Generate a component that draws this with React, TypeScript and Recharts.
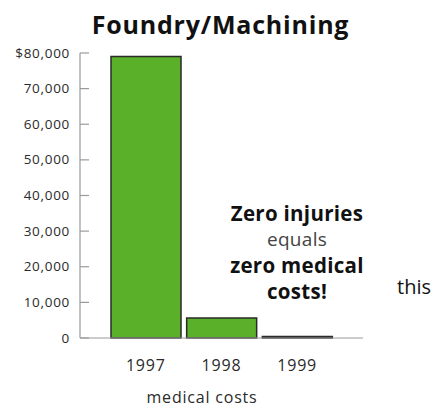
import React from 'react';
import { BarChart, Bar, XAxis, YAxis } from 'recharts';

const years = ['1997', '1998', '1999'];
const medicalCosts = [79000, 5600, 450];
const yTicks = [0, 10000, 20000, 30000, 40000, 50000, 60000, 70000, 80000];
const yTickLabels = ['0', '10,000', '20,000', '30,000', '40,000', '50,000', '60,000', '70,000', '$80,000'];
const title = 'Foundry/Machining';
const axisTitle = 'medical costs';

const data = years.map((y, i) => ({ year: y, cost: medicalCosts[i] }));

const FONT = '"Open Sans", "DejaVu Sans", sans-serif';
const AXIS = '#9a9a9a';

const YTick = (props: any) => {
  const { x, y, payload } = props;
  const idx = yTicks.indexOf(payload.value);
  return (
    <g>
      <line x1={x} y1={y} x2={x + 9} y2={y} stroke={AXIS} strokeWidth={1.2} />
      <text x={x - 10} y={y} dy={4.5} textAnchor="end" fontSize={13.5} fill="#2a2a2a" fontFamily={FONT} letterSpacing={0.7}>
        {yTickLabels[idx]}
      </text>
    </g>
  );
};

const RTick = (props: any) => {
  const { x, y } = props;
  return <line x1={x} y1={y} x2={x} y2={y - 7} stroke={AXIS} strokeWidth={1.2} />;
};

const XTick = (props: any) => {
  const { x, y, payload } = props;
  return (
    <text x={x} y={y} dy={33} textAnchor="middle" fontSize={16} fill="#2a2a2a" fontFamily={FONT} letterSpacing={0.8}>
      {payload.value}
    </text>
  );
};

export default function App() {
  return (
    <div style={{ position: 'absolute', left: 0, top: 0, width: 446, height: 408, background: '#fff', fontFamily: FONT }}>
      <BarChart width={446} height={408} data={data} margin={{ top: 53, right: 83, bottom: 0, left: 0 }} barCategoryGap={3}>
        <XAxis dataKey="year" height={70} padding={{ left: 28, right: 28 }} axisLine={{ stroke: AXIS, strokeWidth: 1.2 }} tickLine={false} tickSize={0} tickMargin={0} tick={<XTick />} interval={0} />
        <YAxis width={80} domain={[0, 80000]} ticks={yTicks} axisLine={{ stroke: AXIS, strokeWidth: 1.2 }} tickLine={false} tickSize={0} tickMargin={0} tick={<YTick />} interval={0} />
        <YAxis yAxisId="r" orientation="right" width={0} domain={[0, 80000]} ticks={[0]} axisLine={false} tickLine={false} tickSize={0} tickMargin={0} tick={<RTick />} />
        <Bar dataKey="cost" fill="#5ab028" stroke="#2a2a2a" strokeWidth={1.5} isAnimationActive={false} />
      </BarChart>
      <div style={{ position: 'absolute', left: 0, width: 441, top: 8, textAlign: 'center', fontSize: 25, fontWeight: 700, color: '#111', lineHeight: '32px', letterSpacing: 0.8 }}>
        {title}
      </div>
      <div style={{ position: 'absolute', left: 202 - 90, width: 180, top: 386, textAlign: 'center', fontSize: 16, color: '#2a2a2a', lineHeight: '22px', letterSpacing: 0.8 }}>
        {axisTitle}
      </div>
      <div style={{ position: 'absolute', left: 297 - 100, width: 200, top: 200, textAlign: 'center', fontSize: 20.5, color: '#111', lineHeight: '26px', letterSpacing: 0.3 }}>
        <div style={{ fontWeight: 700 }}>Zero injuries</div>
        <div style={{ color: '#444', fontSize: 19 }}>equals</div>
        <div style={{ fontWeight: 700 }}>zero medical</div>
        <div style={{ fontWeight: 700 }}>costs!</div>
      </div>
      <div style={{ position: 'absolute', left: 397, top: 274, fontSize: 20, color: '#111', lineHeight: '26px' }}>this</div>
    </div>
  );
}
